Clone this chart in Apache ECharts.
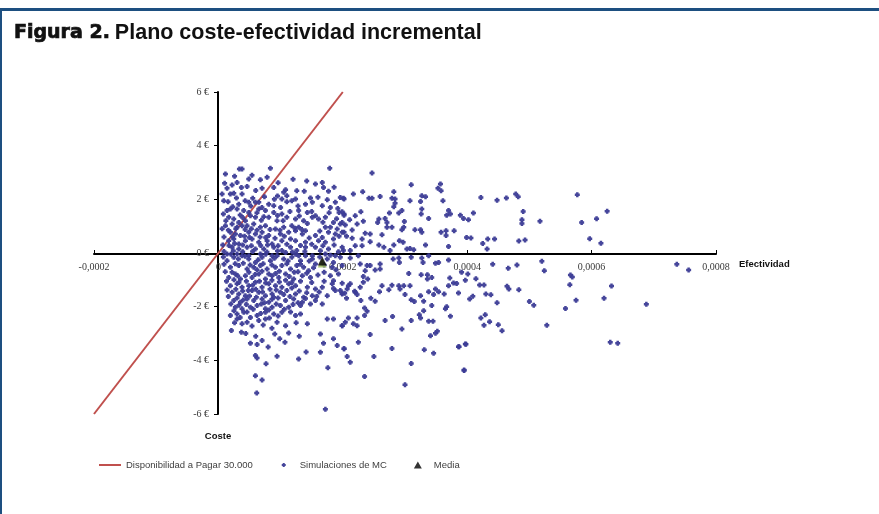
<!DOCTYPE html>
<html>
<head>
<meta charset="utf-8">
<script src="https://cdn.jsdelivr.net/npm/echarts@6/dist/echarts.min.js"></script>
<style>
html,body{margin:0;padding:0;background:#fff;}
#chart{width:879px;height:514px;}
</style>
</head>
<body>
<div id="chart"></div>
<script>
// ---- DATA ----
const titleBold = 'Figura 2.';
const titleText = 'Plano coste-efectividad incremental';
const xTicks = [-0.0002, 0, 0.0002, 0.0004, 0.0006, 0.0008];
const yTicks = [-6, -4, -2, 0, 2, 4, 6];
const xName = 'Efectividad';
const yName = 'Coste';
const seriesNames = ['Disponibilidad a Pagar 30.000', 'Simulaciones de MC', 'Media'];
// Willingness-to-pay line (30.000 €/unit of effect)
const wtpEffect = [-0.0002, 0.0002];
const wtpCost = [-6, 6];
// Mean of simulations
const meanPoint = [16.7e-5, -0.30];
// Monte Carlo simulations [effect, cost]
const mcPoints = [
[1.13e-5,2.94],[3.38e-5,3.13],[3.80e-5,3.13],[17.9e-5,3.16],[8.36e-5,3.16],
[2.20e-5,2.53],[3.00e-5,2.63],[4.88e-5,2.76],[6.75e-5,2.73],[7.83e-5,2.82],
[1.39e-5,2.41],[3.70e-5,2.44],[4.61e-5,2.48],[7.02e-5,2.41],[8.90e-5,2.44],[10.5e-5,2.26],[10.8e-5,2.36],[12.6e-5,2.32],[15.6e-5,2.57],[16.7e-5,2.63],[16.9e-5,2.44],[17.7e-5,2.30],
[0.59e-5,2.20],[1.93e-5,2.20],[2.47e-5,2.23],[3.80e-5,2.20],[5.52e-5,2.04],[11.0e-5,2.13],[10.2e-5,2.01],[12.4e-5,2.01],[14.8e-5,2.05],[19.6e-5,2.07],[20.2e-5,2.01],
[0.86e-5,1.95],[1.55e-5,1.91],[3.27e-5,1.82],[4.88e-5,1.89],[5.95e-5,1.89],[6.49e-5,1.89],[8.09e-5,1.82],[8.90e-5,1.76],[11.0e-5,1.91],[11.8e-5,1.95],[14.0e-5,1.82],[15.1e-5,1.89],[16.7e-5,1.76],[18.0e-5,1.70],[18.8e-5,1.89],
[1.39e-5,1.58],[1.93e-5,1.64],[3.00e-5,1.64],[4.07e-5,1.58],[4.88e-5,1.51],[6.49e-5,1.64],[7.56e-5,1.58],[8.90e-5,1.51],[10.2e-5,1.45],[12.9e-5,1.58],[14.3e-5,1.51],[15.6e-5,1.39],[16.1e-5,1.27],[17.2e-5,1.33],[19.4e-5,1.51],[20.2e-5,1.45],
[1.66e-5,1.33],[2.47e-5,1.27],[3.27e-5,1.14],[4.34e-5,1.20],[5.15e-5,1.39],[5.95e-5,1.33],[8.09e-5,1.33],[9.43e-5,1.20],[11.0e-5,1.33],[12.4e-5,1.27],[13.7e-5,1.20],[15.1e-5,1.33],[18.5e-5,1.14],[19.9e-5,1.14],
[1.13e-5,1.02],[2.20e-5,1.08],[3.00e-5,0.96],[3.80e-5,1.02],[4.61e-5,1.02],[5.68e-5,1.08],[6.75e-5,0.96],[7.56e-5,1.02],[9.17e-5,0.89],[10.5e-5,0.96],[11.8e-5,1.02],[12.9e-5,0.96],[14.0e-5,0.83],[17.2e-5,0.96],[18.0e-5,0.96],[19.1e-5,0.89],
[1.93e-5,0.77],[2.73e-5,0.71],[3.54e-5,0.65],[4.88e-5,0.77],[5.95e-5,0.71],[7.02e-5,0.77],[8.09e-5,0.65],[9.97e-5,0.71],[11.3e-5,0.77],[12.4e-5,0.83],[13.5e-5,0.71],[15.6e-5,0.65],[17.7e-5,0.77],[18.8e-5,0.71],[20.2e-5,0.77],
[1.66e-5,0.46],[2.47e-5,0.52],[3.27e-5,0.34],[4.34e-5,0.46],[5.41e-5,0.52],[6.49e-5,0.40],[7.83e-5,0.46],[8.63e-5,0.34],[10.2e-5,0.46],[11.6e-5,0.52],[12.4e-5,0.46],[14.0e-5,0.40],[16.1e-5,0.46],[17.2e-5,0.40],[18.5e-5,0.52],
[2.20e-5,0.21],[3.27e-5,0.15],[4.61e-5,0.21],[5.95e-5,0.15],[7.29e-5,0.15],[8.90e-5,0.21],[10.2e-5,0.09],[11.6e-5,0.21],[12.6e-5,0.09],[14.0e-5,0.21],[15.6e-5,0.21],[17.7e-5,0.15],[19.9e-5,0.21],
[1.39e-5,-0.04],[3.00e-5,-0.04],[4.88e-5,-0.10],[6.75e-5,-0.04],[8.63e-5,-0.10],[10.8e-5,0.02],[12.9e-5,-0.10],[15.1e-5,-0.10],[17.2e-5,-0.04],[18.8e-5,-0.10],
[1.39e-5,-0.29],[2.47e-5,-0.16],[3.80e-5,-0.10],[4.88e-5,-0.22],[5.95e-5,-0.35],[7.02e-5,-0.16],[8.36e-5,-0.29],[9.43e-5,-0.10],[10.5e-5,-0.22],[11.8e-5,-0.16],[13.2e-5,-0.29],[14.0e-5,-0.10],[15.1e-5,-0.22],[15.6e-5,-0.41],[17.5e-5,-0.22],[18.5e-5,-0.35],[19.6e-5,-0.16],
[1.93e-5,-0.53],[3.27e-5,-0.47],[4.61e-5,-0.60],[5.68e-5,-0.53],[6.75e-5,-0.47],[7.83e-5,-0.60],[9.17e-5,-0.53],[10.2e-5,-0.47],[11.6e-5,-0.60],[12.6e-5,-0.47],[13.7e-5,-0.53],[14.5e-5,-0.66],[18.3e-5,-0.53],[19.9e-5,-0.47],
[1.66e-5,-0.91],[2.73e-5,-0.78],[3.54e-5,-0.97],[4.34e-5,-0.85],[5.41e-5,-0.91],[6.49e-5,-0.78],[7.56e-5,-0.97],[8.63e-5,-0.85],[9.70e-5,-0.91],[10.8e-5,-0.78],[12.1e-5,-0.97],[13.5e-5,-0.85],[14.8e-5,-0.91],[18.0e-5,-0.85],[18.5e-5,-1.03],[19.3e-5,-0.78],
[1.93e-5,-1.22],[3.00e-5,-1.15],[3.80e-5,-1.28],[4.88e-5,-1.22],[5.95e-5,-1.09],[7.02e-5,-1.28],[8.09e-5,-1.15],[9.17e-5,-1.22],[10.2e-5,-1.28],[11.3e-5,-1.15],[12.4e-5,-1.22],[14.3e-5,-1.28],[15.6e-5,-1.34],[16.7e-5,-1.28],[18.3e-5,-1.15],[19.6e-5,-1.40],
[2.20e-5,-1.46],[3.27e-5,-1.53],[4.34e-5,-1.59],[5.41e-5,-1.40],[6.49e-5,-1.46],[7.56e-5,-1.59],[8.63e-5,-1.53],[9.97e-5,-1.46],[11.0e-5,-1.40],[12.4e-5,-1.53],[13.7e-5,-1.65],[15.1e-5,-1.59],[17.5e-5,-1.59],[19.9e-5,-1.53],
[2.47e-5,-1.77],[3.54e-5,-1.84],[4.61e-5,-1.71],[5.68e-5,-1.77],[7.02e-5,-1.71],[8.09e-5,-1.84],[8.90e-5,-1.65],[10.8e-5,-1.77],[12.1e-5,-1.71],[13.5e-5,-1.84],[14.8e-5,-1.90],[15.6e-5,-1.77],[16.7e-5,-1.90],
[2.73e-5,-2.02],[3.80e-5,-2.08],[5.15e-5,-2.02],[6.22e-5,-1.96],[7.56e-5,-2.08],[8.63e-5,-2.02],[9.97e-5,-1.96],[11.3e-5,-2.02],[13.2e-5,-1.96],
[1.93e-5,-2.33],[3.00e-5,-2.27],[4.07e-5,-2.21],[5.15e-5,-2.40],[6.22e-5,-2.33],[7.56e-5,-2.21],[8.90e-5,-2.27],[10.2e-5,-2.21],[12.4e-5,-2.33],[13.2e-5,-2.27],
[3.00e-5,-2.46],[4.61e-5,-2.58],[3.80e-5,-2.64],[6.49e-5,-2.52],[7.56e-5,-2.46],[9.43e-5,-2.58],[10.8e-5,-2.71],[14.3e-5,-2.64],[17.5e-5,-2.46],[18.5e-5,-2.46],[19.9e-5,-2.71],
[2.09e-5,-2.89],[3.70e-5,-2.95],[9.06e-5,-3.02],[11.3e-5,-2.98],[16.4e-5,-3.02],
[5.15e-5,-3.36],[6.22e-5,-3.41],[7.02e-5,-3.26],[9.86e-5,-3.20],[10.7e-5,-3.33],[16.9e-5,-3.36],[18.5e-5,-3.20],[19.1e-5,-3.45],[20.2e-5,-3.57],
[5.95e-5,-3.82],[6.22e-5,-3.91],[7.66e-5,-4.13],[9.43e-5,-3.85],[12.9e-5,-3.95],[14.1e-5,-3.69],[16.4e-5,-3.70],
[5.95e-5,-4.57],[7.02e-5,-4.73],[17.6e-5,-4.28],[6.16e-5,-5.22],[17.2e-5,-5.82],[20.3e-5,-1.50],[18.8e-5,-1.40],
[24.7e-5,2.98],[31.0e-5,2.54],[35.7e-5,2.57],[35.3e-5,2.41],[35.8e-5,2.32],[21.7e-5,2.20],[23.2e-5,2.28],[20.1e-5,2.04],[24.2e-5,2.04],[24.7e-5,2.04],
[26.0e-5,2.11],[28.2e-5,2.28],[27.9e-5,2.04],[28.4e-5,2.01],[30.8e-5,1.95],[32.5e-5,1.92],[32.7e-5,2.13],[33.3e-5,2.10],[36.1e-5,1.95],[28.4e-5,1.85],[28.2e-5,1.72],
[19.9e-5,1.54],[20.2e-5,1.41],[22.9e-5,1.54],[22.0e-5,1.39],[23.3e-5,1.18],[21.1e-5,1.24],[29.5e-5,1.58],[29.0e-5,1.49],[27.5e-5,1.49],[32.7e-5,1.64],[32.6e-5,1.45],
[37.0e-5,1.58],[36.7e-5,1.41],[37.3e-5,1.45],[33.8e-5,1.29],[38.9e-5,1.41],[39.4e-5,1.29],[40.2e-5,1.24],[25.8e-5,1.27],[26.8e-5,1.29],[27.1e-5,1.14],[25.6e-5,1.14],
[27.1e-5,0.96],[29.9e-5,1.17],[27.9e-5,0.96],[29.5e-5,0.87],[29.8e-5,0.96],[31.6e-5,0.87],[32.5e-5,0.87],[32.7e-5,0.77],[35.8e-5,0.77],[36.6e-5,0.83],[36.6e-5,0.65],[37.9e-5,0.83],
[19.6e-5,1.08],[20.4e-5,1.04],[22.3e-5,1.08],[21.5e-5,0.86],[19.9e-5,0.77],[20.6e-5,0.62],[21.5e-5,0.55],[23.1e-5,0.52],[23.6e-5,0.74],[24.4e-5,0.71],[26.3e-5,0.68],
[22.0e-5,0.27],[23.1e-5,0.27],[24.4e-5,0.42],[25.8e-5,0.30],[26.6e-5,0.21],[28.2e-5,0.30],[29.1e-5,0.46],[29.7e-5,0.40],[30.3e-5,0.15],[30.8e-5,0.17],[31.4e-5,0.12],[33.3e-5,0.30],[37.0e-5,0.24],
[20.1e-5,0.09],[21.2e-5,0.09],[27.6e-5,0.09],[39.9e-5,0.58],
[21.2e-5,-0.19],[22.5e-5,-0.10],[22.8e-5,-0.41],[23.9e-5,-0.47],[24.4e-5,-0.47],[26.0e-5,-0.41],[26.0e-5,-0.60],[23.6e-5,-0.66],[25.2e-5,-0.63],[28.1e-5,-0.22],[29.0e-5,-0.19],[29.1e-5,-0.35],
[31.0e-5,-0.16],[32.7e-5,-0.19],[32.9e-5,-0.35],[33.8e-5,-0.10],[34.9e-5,-0.38],[35.4e-5,-0.35],[37.0e-5,-0.26],[30.6e-5,-0.76],[32.6e-5,-0.81],[33.6e-5,-0.81],[33.6e-5,-0.97],[34.3e-5,-0.91],
[37.2e-5,-0.93],[39.1e-5,-0.72],[40.1e-5,-0.78],[23.3e-5,-0.88],[24.0e-5,-0.97],[23.3e-5,-1.09],[19.9e-5,-1.13],[20.9e-5,-1.22],[20.7e-5,-1.34],[21.2e-5,-1.15],[22.0e-5,-1.46],[22.8e-5,-1.28],
[22.3e-5,-1.55],[21.9e-5,-1.43],[19.9e-5,-1.50],[20.6e-5,-1.69],[22.9e-5,-1.77],[24.5e-5,-1.69],[25.2e-5,-1.80],[25.9e-5,-1.44],[26.3e-5,-1.22],[27.4e-5,-1.37],[27.9e-5,-1.20],[29.0e-5,-1.22],
[29.2e-5,-1.34],[29.8e-5,-1.22],[30.0e-5,-1.55],[30.8e-5,-1.22],[31.0e-5,-1.74],[31.5e-5,-1.81],[32.5e-5,-1.59],[33.0e-5,-1.80],[33.8e-5,-1.44],[34.3e-5,-1.96],[34.9e-5,-1.34],[35.4e-5,-1.44],
[34.6e-5,-1.55],[36.3e-5,-1.53],[37.0e-5,-1.22],[37.8e-5,-1.12],[38.3e-5,-1.14],[38.6e-5,-1.49],[36.7e-5,-2.00],[36.5e-5,-2.08],[37.3e-5,-2.36],[39.7e-5,-1.02],[40.4e-5,-1.71],
[32.3e-5,-2.30],[33.0e-5,-2.15],[33.8e-5,-2.54],[34.5e-5,-2.54],[32.5e-5,-2.42],[31.0e-5,-2.52],[28.0e-5,-2.37],[26.8e-5,-2.52],[23.5e-5,-2.05],[23.9e-5,-2.17],[23.5e-5,-2.33],
[19.9e-5,-2.71],[20.4e-5,-2.58],[20.9e-5,-2.42],[21.7e-5,-2.64],[22.3e-5,-2.71],[22.3e-5,-2.42],[24.4e-5,-3.04],[29.5e-5,-2.83],[34.1e-5,-3.08],[34.9e-5,-2.99],[35.2e-5,-2.92],
[22.5e-5,-3.33],[20.2e-5,-3.57],[20.7e-5,-3.86],[21.2e-5,-4.07],[25.0e-5,-3.86],[27.9e-5,-3.56],[33.1e-5,-3.61],[34.6e-5,-3.74],[38.6e-5,-3.49],[39.7e-5,-3.39],
[31.0e-5,-4.12],[39.5e-5,-4.38],[23.5e-5,-4.60],[30.0e-5,-4.91],
[42.2e-5,2.07],[44.8e-5,1.97],[46.3e-5,2.05],[47.8e-5,2.20],[48.2e-5,2.10],[57.7e-5,2.17],[49.0e-5,1.55],[48.8e-5,1.24],[48.8e-5,1.10],[51.7e-5,1.18],[58.4e-5,1.14],[60.8e-5,1.28],[62.5e-5,1.56],
[40.6e-5,0.56],[42.5e-5,0.35],[43.3e-5,0.52],[44.4e-5,0.52],[43.2e-5,0.15],[48.3e-5,0.45],[49.3e-5,0.48],[59.7e-5,0.53],[61.5e-5,0.36],[41.0e-5,1.49],
[44.1e-5,-0.42],[46.6e-5,-0.57],[48.0e-5,-0.45],[52.0e-5,-0.31],[52.4e-5,-0.66],[56.6e-5,-0.82],[56.9e-5,-0.89],[56.5e-5,-1.18],[57.5e-5,-1.76],[55.8e-5,-2.07],[63.2e-5,-1.23],[62.0e-5,-1.69],
[68.8e-5,-1.91],[73.7e-5,-0.42],[75.6e-5,-0.63],[41.4e-5,-0.96],[42.0e-5,-1.19],[42.7e-5,-1.19],[43.0e-5,-1.53],[43.8e-5,-1.56],[40.9e-5,-1.61],[44.8e-5,-1.85],[46.4e-5,-1.24],[46.7e-5,-1.34],
[48.3e-5,-1.37],[50.0e-5,-1.81],[50.7e-5,-1.95],[52.8e-5,-2.69],[42.2e-5,-2.42],[42.9e-5,-2.30],[43.6e-5,-2.56],[42.7e-5,-2.69],[45.0e-5,-2.67],[45.6e-5,-2.90],
[63.0e-5,-3.33],[64.2e-5,-3.36],[39.8e-5,-3.40],[38.7e-5,-3.49],[39.5e-5,-4.36],
[2.6e-5,2.86],[5.4e-5,2.9],[9.6e-5,2.62],[12.0e-5,2.75],[14.2e-5,2.68],
[1.0e-5,2.6],[6.0e-5,2.33],[9.5e-5,2.12],[13.8e-5,2.3],[18.6e-5,2.45],
[2.9e-5,2.05],[4.3e-5,1.95],[7.4e-5,2.1],[9.0e-5,2.0],[16.0e-5,2.08],[17.5e-5,1.98],
[2.3e-5,1.72],[5.2e-5,1.75],[7.0e-5,1.7],[10.0e-5,1.7],[12.8e-5,1.75],[13.0e-5,1.38],[19.2e-5,1.66],
[0.8e-5,1.45],[3.5e-5,1.42],[6.2e-5,1.5],[9.5e-5,1.4],[11.5e-5,1.55],[15.0e-5,1.55],[17.8e-5,1.5],
[1.2e-5,1.2],[3.9e-5,1.32],[6.9e-5,1.22],[7.3e-5,1.35],[10.4e-5,1.2],[14.3e-5,1.1],[16.8e-5,1.15],[19.0e-5,1.28],
[0.6e-5,0.9],[1.6e-5,0.85],[2.8e-5,0.9],[4.3e-5,0.88],[5.3e-5,0.9],[6.2e-5,0.85],[8.3e-5,0.88],[9.9e-5,0.85],[12.3e-5,0.92],[13.4e-5,0.88],[16.3e-5,0.82],
[0.9e-5,0.6],[2.3e-5,0.6],[4.2e-5,0.62],[5.0e-5,0.58],[6.7e-5,0.6],[7.6e-5,0.58],[9.1e-5,0.55],[10.6e-5,0.62],[14.6e-5,0.56],[16.7e-5,0.58],[19.4e-5,0.62],
[0.7e-5,0.3],[1.7e-5,0.28],[2.6e-5,0.35],[3.9e-5,0.3],[5.3e-5,0.27],[6.8e-5,0.28],[7.9e-5,0.3],[9.6e-5,0.27],[11.0e-5,0.33],[13.2e-5,0.28],[15.0e-5,0.33],[16.8e-5,0.27],[18.6e-5,0.3],
[0.9e-5,0.06],[2.4e-5,0.08],[3.9e-5,0.05],[5.5e-5,0.06],[7.8e-5,0.04],[9.5e-5,0.07],[11.9e-5,0.04],[13.9e-5,0.06],[16.4e-5,0.08],[19.3e-5,0.05],
[0.8e-5,-0.15],[2.0e-5,-0.05],[3.2e-5,-0.22],[4.3e-5,-0.12],[6.4e-5,-0.25],[7.6e-5,-0.05],[9.0e-5,-0.2],[11.2e-5,-0.3],[12.4e-5,-0.05],[14.6e-5,-0.3],[16.3e-5,-0.15],[18.0e-5,-0.08],
[0.9e-5,-0.42],[2.7e-5,-0.4],[4.0e-5,-0.38],[5.1e-5,-0.45],[6.2e-5,-0.62],[7.2e-5,-0.4],[8.6e-5,-0.45],[9.8e-5,-0.68],[11.0e-5,-0.4],[12.2e-5,-0.72],[13.2e-5,-0.42],[15.3e-5,-0.55],[17.0e-5,-0.45],[18.9e-5,-0.62],
[1.1e-5,-0.7],[2.2e-5,-0.72],[3.1e-5,-0.85],[4.9e-5,-0.72],[5.9e-5,-0.8],[7.0e-5,-0.68],[8.1e-5,-0.78],[9.2e-5,-0.76],[11.4e-5,-0.88],[12.8e-5,-0.7],[14.2e-5,-0.75],[16.0e-5,-0.82],[17.0e-5,-0.72],
[1.3e-5,-1.05],[2.5e-5,-1.0],[3.3e-5,-1.1],[4.5e-5,-1.05],[5.5e-5,-1.2],[6.6e-5,-1.05],[7.6e-5,-1.12],[8.6e-5,-1.02],[9.8e-5,-1.08],[10.8e-5,-1.02],[11.8e-5,-1.1],[13.2e-5,-1.05],[15.0e-5,-1.1],[17.0e-5,-1.05],
[1.4e-5,-1.38],[2.8e-5,-1.35],[3.9e-5,-1.42],[4.8e-5,-1.4],[6.0e-5,-1.35],[7.1e-5,-1.45],[8.3e-5,-1.35],[9.3e-5,-1.38],[10.5e-5,-1.55],[11.8e-5,-1.3],[13.0e-5,-1.42],[14.2e-5,-1.48],[16.2e-5,-1.45],[18.5e-5,-1.32],
[1.6e-5,-1.62],[3.0e-5,-1.68],[4.0e-5,-1.75],[5.0e-5,-1.6],[6.1e-5,-1.65],[7.4e-5,-1.85],[8.6e-5,-1.72],[9.6e-5,-1.68],[11.5e-5,-1.62],[12.8e-5,-1.85],[14.0e-5,-1.7],[15.8e-5,-1.62],
[2.0e-5,-1.9],[3.3e-5,-1.95],[4.5e-5,-1.92],[5.6e-5,-2.1],[6.9e-5,-1.9],[8.1e-5,-2.12],[9.3e-5,-1.9],[10.6e-5,-2.1],[12.0e-5,-1.92],
[2.5e-5,-2.15],[3.5e-5,-2.4],[4.6e-5,-2.2],[6.8e-5,-2.25],[8.2e-5,-2.42],[9.6e-5,-2.35],[11.6e-5,-2.2],
[2.6e-5,-2.6],[5.4e-5,-2.72],[7.2e-5,-2.68],[8.6e-5,-2.8],[12.5e-5,-2.6],[4.4e-5,-3.0],[6.0e-5,-3.1],[8.0e-5,-3.5],[13.0e-5,-3.1]
];

// ---- CHART ----
const chart = echarts.init(document.getElementById('chart'), null, {renderer: 'canvas'});
const speck = 'M0,0h0.01v0.01h-0.01Z M22,10h0.01v0.01h-0.01Z ';
const lineIcon = 'path://' + speck + 'M0,4H22V6H0Z';
const dotIcon = 'path://' + speck + 'M10,3H12V4H13V6H12V7H10V6H9V4H10Z';
const triIcon = 'path://' + speck + 'M11,1.5L15,8.5H7Z';
const tickFont = {fontFamily: 'Liberation Serif', fontSize: 10, color: '#3a3a3a'};

const option = {
  backgroundColor: '#ffffff',
  animation: false,
  title: {
    text: '{a|' + titleBold + '} {b|' + titleText + '}',
    left: 9, top: 17,
    textStyle: {
      rich: {
        a: {fontFamily: 'DejaVu Sans', fontWeight: 'bold', fontSize: 19, color: '#111', textBorderColor: '#111', textBorderWidth: 0.7},
        b: {fontFamily: 'Liberation Sans', fontWeight: 'bold', fontSize: 21.5, color: '#111'}
      }
    }
  },
  graphic: [
    {type: 'rect', shape: {x: 0, y: 8, width: 879, height: 3}, style: {fill: '#1d4f80'}, silent: true},
    {type: 'rect', shape: {x: 0, y: 8, width: 2, height: 506}, style: {fill: '#1d4f80'}, silent: true}
  ],
  grid: {left: 94, right: 163, top: 92, bottom: 100, containLabel: false},
  legend: {
    left: 94, top: 455,
    itemWidth: 22, itemHeight: 10, itemGap: 20, itemTextGap: 4,
    textStyle: {fontFamily: 'Liberation Sans', fontSize: 9.5, color: '#404040'},
    data: [
      {name: seriesNames[0], icon: lineIcon},
      {name: seriesNames[1], icon: dotIcon},
      {name: seriesNames[2], icon: triIcon}
    ]
  },
  xAxis: {
    type: 'value',
    min: xTicks[0], max: xTicks[xTicks.length - 1], interval: 0.0002,
    offset: -160,
    name: xName, nameLocation: 'end', nameGap: 23,
    nameTextStyle: {fontFamily: 'Liberation Sans', fontWeight: 'bold', fontSize: 9.5, color: '#111', verticalAlign: 'top', padding: [5, 0, 0, 0]},
    axisLine: {onZero: false, lineStyle: {color: '#000', width: 2}},
    axisTick: {show: true, inside: true, length: 4, lineStyle: {color: '#000', width: 1}},
    splitLine: {show: false},
    axisLabel: Object.assign({
      margin: 8,
      formatter: function (v) {
        if (Math.abs(v) < 1e-12) return '0';
        return v.toFixed(4).replace('.', ',');
      }
    }, tickFont)
  },
  yAxis: {
    type: 'value',
    min: yTicks[0], max: yTicks[yTicks.length - 1], interval: 2,
    offset: -124,
    name: yName, nameLocation: 'start', nameGap: 17,
    nameTextStyle: {fontFamily: 'Liberation Sans', fontWeight: 'bold', fontSize: 9.5, color: '#111', align: 'center'},
    axisLine: {onZero: false, lineStyle: {color: '#000', width: 2}},
    axisTick: {show: true, inside: false, length: 4, lineStyle: {color: '#000', width: 1}},
    splitLine: {show: false},
    axisLabel: Object.assign({
      margin: 9,
      formatter: function (v) { return v + ' €'; }
    }, tickFont)
  },
  series: [
    {
      name: seriesNames[0], type: 'line', symbol: 'none',
      data: wtpEffect.map((e, i) => [e, wtpCost[i]]),
      lineStyle: {color: '#c0504d', width: 2},
      itemStyle: {color: '#c0504d'},
      z: 2
    },
    {
      name: seriesNames[1], type: 'scatter',
      symbol: 'path://M1.5,0H4.5V1.5H6V4.5H4.5V6H1.5V4.5H0V1.5H1.5Z', symbolSize: 5,
      data: mcPoints,
      itemStyle: {color: '#3c3c96', opacity: 0.95},
      z: 3
    },
    {
      name: seriesNames[2], type: 'scatter', symbol: 'triangle', symbolSize: 9,
      data: [meanPoint],
      itemStyle: {color: '#000', shadowColor: '#9bbb59', shadowOffsetY: 2, shadowOffsetX: 0, shadowBlur: 0},
      z: 4
    }
  ]
};
chart.setOption(option);
</script>
</body>
</html>
